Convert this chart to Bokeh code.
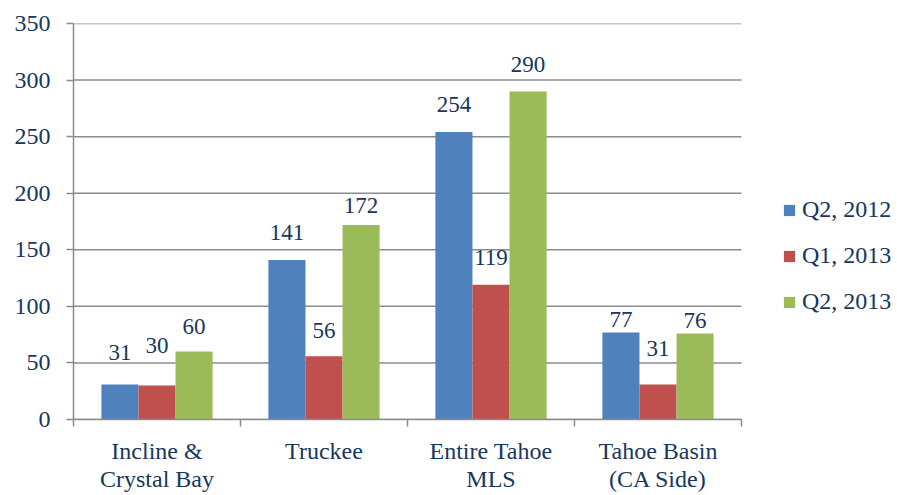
from bokeh.plotting import figure
from bokeh.models import (ColumnDataSource, FixedTicker, Legend, LegendItem,
                          Range1d)
from bokeh.transform import dodge
from bokeh.embed import file_html
from bokeh.resources import INLINE
from bokeh.core.properties import value

# Sales counts by area and quarter
areas = ["Incline &\nCrystal Bay", "Truckee", "Entire Tahoe\nMLS", "Tahoe Basin\n(CA Side)"]
series_names = ["Q2, 2012", "Q1, 2013", "Q2, 2013"]
q2_2012 = [31, 141, 254, 77]
q1_2013 = [30, 56, 119, 31]
q2_2013 = [60, 172, 290, 76]
y_ticks = [0, 50, 100, 150, 200, 250, 300, 350]

# label lift above each bar top, in screen pixels
lift_q2_2012 = [32, 27, 28, 13]
lift_q1_2013 = [40, 26, 27, 36]
lift_q2_2013 = [25, 19, 27, 13]

colors = ["#4F81BD", "#C0504D", "#9BBB59"]
TEXT = "#17375E"
GRID = "#8C8C8C"
FONT = "'Liberation Serif', serif"

W, H = 897, 495
LEFT, TOP, BOTTOM = 73, 23, 72
CAT_PX = 167  # pixels per category slot
n = len(areas)
frame_w = W - LEFT
x_end = frame_w / CAT_PX  # frame runs on to the right edge, room for the legend

pos = [i + 0.5 for i in range(n)]
bar_w = 0.222

p = figure(width=W, height=H, output_backend="svg", toolbar_location=None,
           x_range=Range1d(0, x_end), y_range=Range1d(0, 350),
           min_border_left=LEFT, min_border_right=0, min_border_top=TOP,
           min_border_bottom=BOTTOM)
p.outline_line_color = None
p.background_fill_color = "white"
p.border_fill_color = "white"

# horizontal gridlines only across the category area
p.segment(x0=0, x1=n, y0=y_ticks, y1=y_ticks, line_color=GRID, line_width=1.5)

all_vals = [q2_2012, q1_2013, q2_2013]
all_lifts = [lift_q2_2012, lift_q1_2013, lift_q2_2013]
offsets = [-bar_w, 0.0, bar_w]
renderers = []
for vals, lifts, off, col in zip(all_vals, all_lifts, offsets, colors):
    src = ColumnDataSource(dict(x=pos, top=vals, label=[str(v) for v in vals],
                                lift=[-l for l in lifts]))
    r = p.vbar(x=dodge("x", off, range=p.x_range), top="top", width=bar_w,
               source=src, fill_color=col, line_color=None)
    renderers.append(r)
    p.text(x=dodge("x", off, range=p.x_range), y="top", text="label",
           y_offset="lift", source=src, text_align="center",
           text_baseline="middle", text_font=value(FONT),
           text_font_size="23px", text_color=TEXT)

# x axis: ticks at category boundaries, labels at category centres
xa = p.xaxis[0]
xa.bounds = (0, n)
xa.ticker = FixedTicker(ticks=pos, minor_ticks=list(range(n + 1)))
xa.major_label_overrides = {pos[i]: areas[i] for i in range(n)}
xa.major_tick_line_color = None
xa.minor_tick_out = 7
xa.minor_tick_in = 0
xa.minor_tick_line_color = GRID
xa.minor_tick_line_width = 1.5
xa.axis_line_color = GRID
xa.axis_line_width = 1.5
xa.major_label_text_font = FONT
xa.major_label_text_font_size = "24px"
xa.major_label_text_line_height = 1.1
xa.major_label_text_color = TEXT
xa.major_label_standoff = 11

ya = p.yaxis[0]
ya.ticker = FixedTicker(ticks=y_ticks)
ya.major_tick_out = 7
ya.major_tick_in = 0
ya.major_tick_line_color = GRID
ya.major_tick_line_width = 1.5
ya.minor_tick_line_color = None
ya.axis_line_color = GRID
ya.axis_line_width = 1.5
ya.major_label_text_font = FONT
ya.major_label_text_font_size = "24px"
ya.major_label_text_color = TEXT
ya.major_label_standoff = 16

p.xgrid.grid_line_color = None
p.ygrid.grid_line_color = None

legend = Legend(items=[LegendItem(label=s, renderers=[r])
                       for s, r in zip(series_names, renderers)],
                location=(709, 104), orientation="vertical",
                glyph_width=14, glyph_height=14, label_standoff=6,
                label_text_font=FONT, label_text_font_size="24px",
                label_text_color=TEXT, spacing=19, padding=0, margin=0,
                border_line_color=None, background_fill_alpha=0)
p.add_layout(legend, "center")

open("out.html", "w").write(file_html(p, INLINE))
